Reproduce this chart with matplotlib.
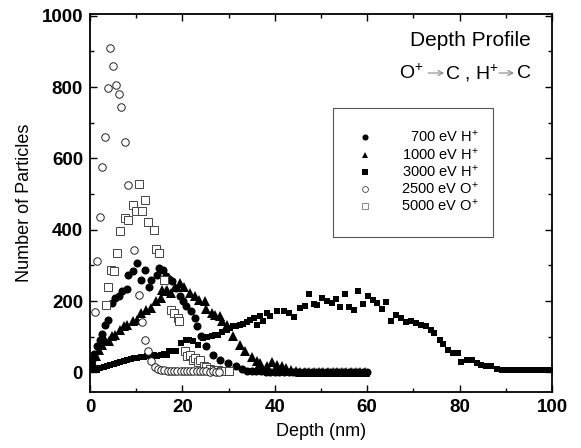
import matplotlib
matplotlib.use("Agg")
import matplotlib.pyplot as plt

plt.rcParams['font.family'] = ['Liberation Sans', 'DejaVu Sans']
plt.rcParams['mathtext.default'] = 'regular'

# 700 eV H+ (filled circles)
h700_x = [0.4, 0.9, 1.5, 2.1, 2.6, 3.3, 3.9, 4.8, 5.5, 6.2, 7.0, 8.1, 8.3, 9.2, 10.1, 11.0, 11.9,
          12.8, 13.2, 14.6, 15.0, 15.7, 16.5, 17.1, 17.8, 18.7, 19.4, 20.1, 20.8, 21.9, 22.7, 23.2,
          24.1, 25.2, 26.6, 28.1, 29.9, 31.7, 33.0,
          34, 35, 36, 37, 38, 39, 40, 41, 42, 43, 44, 45, 46, 47, 48, 49, 50, 51, 52, 53, 54, 55,
          56, 57, 58, 59, 60]
h700_y = [36, 52, 73, 92, 109, 134, 148, 195, 209, 215, 227, 235, 274, 285, 306, 260, 288,
          239, 260, 274, 292, 288, 270, 262, 255, 236, 213, 199, 185, 171, 153, 129,
          101, 73, 50, 36, 27, 18, 10,
          5, 4, 3, 3, 2, 2, 2, 2, 2, 2, 2, 2, 2, 2, 2, 2, 2, 2, 2, 2, 2, 2,
          2, 2, 2, 2, 2]

# 1000 eV H+ (filled triangles)
h1000_x = [0.65, 1.2, 1.9, 2.6, 3.3, 4.1, 4.8, 5.5, 6.5, 7.3, 8.1, 9.2, 10.2, 11.0, 12.1, 13.1,
           14.2, 15.3, 15.6, 16.4, 16.6, 17.6, 18.5, 19.4, 20.3, 21.6, 22.7, 23.7, 24.8, 25.1,
           26.3, 27.1, 28.1, 28.5, 29.6, 31.0, 32.5, 33.6, 35.0, 36.1, 36.8, 38.3, 39.5, 40.5,
           41.5, 42.5, 43.5,
           44.5, 45.5, 46.5, 47.5, 48.5, 49.5, 50.5, 51.5, 52.5, 53.5, 54.5, 55.5, 56.5, 57.5,
           58.5, 59.5]
h1000_y = [27, 46, 64, 78, 92, 87, 101, 106, 120, 129, 134, 143, 148, 167, 176, 180,
           199, 208, 232, 227, 232, 223, 240, 251, 240, 223, 213, 204, 199, 178,
           167, 162, 157, 143, 134, 101, 78, 60, 44, 32, 27, 18, 30, 22,
           18, 12, 6,
           3, 2, 2, 2, 2, 2, 2, 2, 2, 2, 2, 2, 2, 2,
           2, 2]

# 3000 eV H+ (filled squares)
h3000_x = [0.1, 0.8, 1.5, 2.2, 3.0, 3.7, 4.4, 5.1, 5.9, 6.6, 7.4, 8.1, 8.8, 9.5, 10.2, 11.0,
           11.7, 12.4, 13.1, 13.9, 14.6, 15.3, 16.0, 16.7, 17.2, 17.9, 18.7, 19.8, 20.8, 21.5,
           22.3, 23.4, 24.5, 25.4, 26.3, 27.0, 27.7, 28.6, 29.6, 30.3, 31.0, 31.7, 32.5, 33.2,
           33.9, 34.6, 35.4, 36.1, 36.8, 37.5, 38.3, 39.0, 40.4, 41.9, 43.0, 44.1, 45.5, 46.6,
           47.3, 48.4, 49.2, 50.3, 51.4, 52.4, 53.3, 54.2, 55.3, 56.1, 57.1, 58.1, 59.1, 60.1,
           61.2, 62.1, 63.1, 64.1, 65.1, 66.2, 67.3, 68.4, 69.5, 70.6, 71.7, 72.8, 73.9, 74.4,
           75.7, 76.4, 77.5, 78.6, 79.7, 80.4, 81.5, 82.6, 83.7, 84.7, 85.8, 86.9, 88.0, 89.1,
           90.2, 91.3, 92.4, 93.5, 94.6, 95.7, 96.8, 97.9, 99.0, 100.0]
h3000_y = [13, 10, 8, 12, 15, 18, 22, 24, 27, 30, 33, 36, 38, 40, 41, 43,
           44, 46, 48, 50, 46, 50, 52, 50, 60, 60, 60, 83, 92, 90,
           87, 78, 97, 100, 101, 104, 106, 112, 120, 124, 129, 131, 134, 137,
           140, 148, 153, 134, 157, 143, 167, 157, 171, 173, 167, 155, 180, 185,
           220, 191, 190, 208, 199, 194, 206, 183, 220, 184, 176, 227, 192, 213,
           202, 194, 179, 197, 145, 162, 153, 140, 143, 139, 134, 129, 120, 111,
           90, 80, 64, 53, 55, 29, 34, 34, 27, 20, 18, 18, 10, 8,
           7, 7, 6, 7, 6, 6, 7, 6, 7, 7]

# 2500 eV O+ (open circles)
o2500_x = [1.0, 1.6, 2.1, 2.6, 3.3, 3.8, 4.4, 4.9, 5.6, 6.2, 6.8, 7.6, 8.2, 9.6, 10.7, 11.3,
           12.0, 12.5, 13.2, 14.0, 14.7, 15.4, 16.1, 16.8, 17.5, 18.2, 18.9, 19.6, 20.3, 21.0,
           21.7, 22.4, 23.1, 23.8, 24.5, 25.2, 25.9, 26.6, 27.3, 28.0]
o2500_y = [168, 313, 437, 575, 659, 798, 910, 860, 807, 782, 743, 645, 525, 343, 216, 140,
           92, 60, 31, 14, 10, 8, 6, 5, 5, 4, 4, 5, 4, 3,
           4, 3, 3, 4, 3, 3, 2, 3, 2, 2]

# 5000 eV O+ (open squares)
o5000_x = [3.4, 4.0, 4.6, 5.2, 5.8, 6.6, 7.5, 8.2, 9.2, 9.9, 10.7, 11.3, 12.0, 12.5, 13.8,
           14.3, 15.0, 16.1, 17.6, 18.1, 19.0, 19.2, 20.5, 21.1, 21.7, 22.2, 22.8, 23.3, 23.9,
           24.6, 25.2, 26.0, 26.8, 27.6, 28.4, 29.2, 30.0]
o5000_y = [190, 239, 288, 283, 334, 397, 433, 427, 470, 453, 529, 453, 484, 421, 398,
           345, 334, 260, 176, 167, 153, 143, 60, 46, 50, 36, 41, 28, 36,
           18, 14, 10, 8, 6, 5, 5, 4]

legend_labels = ['700 eV H$^{+}$', '1000 eV H$^{+}$', '3000 eV H$^{+}$', '2500 eV O$^{+}$',
                 '5000 eV O$^{+}$']

W, H = 581, 448
fig = plt.figure(figsize=(W / 100, H / 100), dpi=100)
ax = fig.add_axes([90 / W, 56 / H, 462 / W, 378 / H])

ms = 5.4
ax.plot(h3000_x, h3000_y, 's', color='black', ms=ms - 0.4, mew=0, ls='none')
ax.plot(h1000_x, h1000_y, '^', color='black', ms=ms + 1.2, mew=0, ls='none')
ax.plot(h700_x, h700_y, 'o', color='black', ms=ms + 0.4, mew=0, ls='none')
ax.plot(o5000_x, o5000_y, 's', mfc='white', mec='#444444', ms=ms + 0.2, mew=0.7, ls='none')
ax.plot(o2500_x, o2500_y, 'o', mfc='white', mec='#222222', ms=ms, mew=0.7, ls='none')

ax.set_xlim(0, 100)
ax.set_ylim(-55, 1005)
ax.set_xticks([0, 20, 40, 60, 80, 100])
ax.set_xticks([10, 30, 50, 70, 90], minor=True)
ax.set_yticks([0, 200, 400, 600, 800, 1000])
ax.set_yticks([100, 300, 500, 700, 900], minor=True)
ax.tick_params(which='both', direction='in', top=True, right=True, width=1.0,
               labelsize=13.5, pad=5)
ax.tick_params(which='major', length=5)
ax.tick_params(which='minor', length=3)
for s in ax.spines.values():
    s.set_linewidth(1.3)
for lab in ax.get_xticklabels() + ax.get_yticklabels():
    lab.set_fontweight('bold')

ax.set_xlabel('Depth (nm)', fontsize=13, labelpad=5)
ax.set_ylabel('Number of Particles', fontsize=13, labelpad=6)


def fx(px):
    return (px - 90) / 462.0


def fy(py):
    return (392 - py) / 378.0


ax.text(fx(531), fy(40), 'Depth Profile', transform=ax.transAxes, ha='right', va='center',
        fontsize=15)

# subtitle "O+ -> C , H+ -> C" laid out piecewise, right edge at x=531 px
renderer = fig.canvas.get_renderer()
sub_fs = 14
pieces = [('text', 'O$^{+}$', 5), ('arrow', 16, 1), ('text', 'C , H$^{+}$', 0),
          ('arrow', 15, 3), ('text', 'C', 0)]
widths = []
tmp_objs = []
for kind, val, gap in pieces:
    if kind == 'text':
        t = fig.text(0, 0, val, fontsize=sub_fs)
        bb = t.get_window_extent(renderer)
        widths.append(bb.width)
        t.remove()
    else:
        widths.append(val)
total = sum(widths) + sum(p[2] for p in pieces)
xcur = 531 - total
ysub = 73
for (kind, val, gap), w in zip(pieces, widths):
    if kind == 'text':
        ax.text(fx(xcur), fy(ysub), val, transform=ax.transAxes, ha='left', va='center',
                fontsize=sub_fs)
    else:
        ax.annotate('', xy=(fx(xcur + w), fy(ysub)), xytext=(fx(xcur), fy(ysub)),
                    xycoords='axes fraction',
                    arrowprops=dict(arrowstyle='->', color='#888888', lw=0.8,
                                    shrinkA=0, shrinkB=0, mutation_scale=9))
    xcur += w + gap

# legend box
ax.add_patch(plt.Rectangle((fx(333), fy(237)), fx(493) - fx(333), fy(108) - fy(237),
                           transform=ax.transAxes, fill=False, ec='#555555', lw=0.8))
leg_styles = [dict(marker='o', color='black', mew=0, ms=4.4),
              dict(marker='^', color='black', mew=0, ms=4.8),
              dict(marker='s', color='black', mew=0, ms=4.0),
              dict(marker='o', mfc='white', mec='#444444', mew=0.6, ms=4.2),
              dict(marker='s', mfc='white', mec='#777777', mew=0.6, ms=4.2)]
rows = [137, 155, 172, 189, 206]
for lab, st, r in zip(legend_labels, leg_styles, rows):
    ax.plot([fx(365)], [fy(r)], transform=ax.transAxes, ls='none', **st)
    ax.text(fx(479), fy(r), lab, transform=ax.transAxes, ha='right', va='center', fontsize=10.5)

fig.savefig('out.png', dpi=100)
